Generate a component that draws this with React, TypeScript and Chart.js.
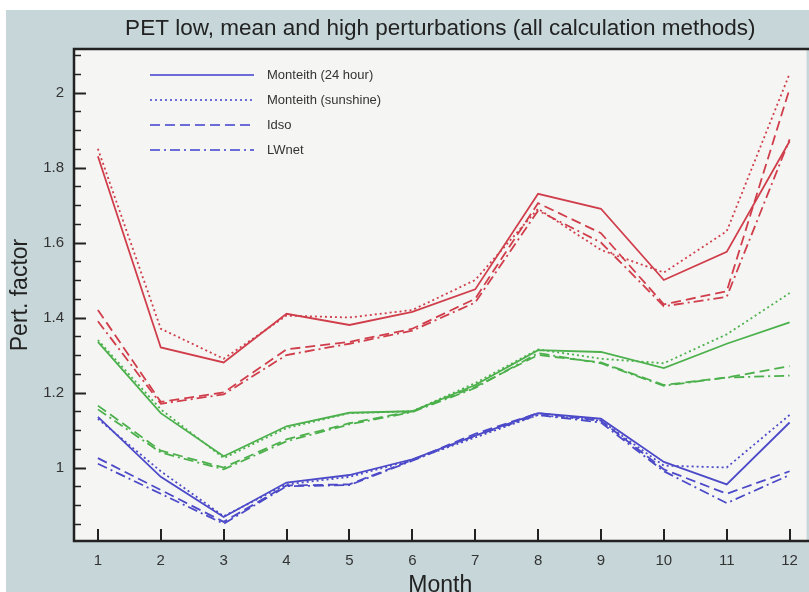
import React, { useEffect, useRef } from "react";
import { Chart, registerables } from "chart.js";
Chart.register(...registerables);

const months = [1, 2, 3, 4, 5, 6, 7, 8, 9, 10, 11, 12];
const yTickValues = [1, 1.2, 1.4, 1.6, 1.8, 2];
const yMinorValues = [0.85, 0.9, 0.95, 1.05, 1.1, 1.15, 1.25, 1.3, 1.35, 1.45, 1.5, 1.55, 1.65, 1.7, 1.75, 1.85, 1.9, 1.95, 2.05, 2.1];
const methodLabels = ["Monteith (24 hour)", "Monteith (sunshine)", "Idso", "LWnet"];

// High perturbation (red)
const highM24 = [1.83, 1.32, 1.28, 1.41, 1.38, 1.415, 1.475, 1.73, 1.69, 1.5, 1.575, 1.87];
const highSun = [1.85, 1.37, 1.29, 1.405, 1.4, 1.42, 1.5, 1.69, 1.58, 1.52, 1.63, 2.05];
const highIdso = [1.42, 1.175, 1.2, 1.315, 1.335, 1.37, 1.45, 1.705, 1.625, 1.435, 1.47, 2.01];
const highLW = [1.39, 1.17, 1.195, 1.3, 1.33, 1.365, 1.44, 1.685, 1.6, 1.43, 1.455, 1.875];

// Mean perturbation (green)
const midM24 = [1.335, 1.145, 1.03, 1.11, 1.146, 1.15, 1.22, 1.313, 1.308, 1.265, 1.33, 1.387];
const midSun = [1.34, 1.155, 1.025, 1.105, 1.145, 1.15, 1.225, 1.315, 1.29, 1.278, 1.355, 1.465];
const midIdso = [1.165, 1.045, 1.0, 1.075, 1.118, 1.15, 1.215, 1.3, 1.28, 1.22, 1.24, 1.27];
const midLW = [1.155, 1.04, 0.995, 1.07, 1.115, 1.148, 1.212, 1.305, 1.278, 1.218, 1.24, 1.245];

// Low perturbation (blue)
const lowM24 = [1.135, 0.975, 0.868, 0.96, 0.98, 1.022, 1.085, 1.145, 1.13, 1.015, 0.955, 1.12];
const lowSun = [1.13, 0.99, 0.87, 0.955, 0.975, 1.02, 1.08, 1.14, 1.125, 1.005, 1.0, 1.14];
const lowIdso = [1.025, 0.94, 0.855, 0.952, 0.955, 1.02, 1.09, 1.145, 1.125, 0.995, 0.93, 0.99];
const lowLW = [1.01, 0.93, 0.85, 0.95, 0.953, 1.018, 1.085, 1.14, 1.12, 0.99, 0.905, 0.98];

const RED = "#d03e4c";
const GREEN = "#4cb04c";
const BLUE = "#4c4ac8";
const LEGEND_LINE = "#6c6cd8";
const FONT = "'Liberation Sans', Arial, Helvetica, sans-serif";

const DASH_SOLID: number[] = [];
const DASH_DOT = [2, 3];
const DASH_DASH = [10, 5];
const DASH_DASHDOT = [10, 4, 2, 4];
const dashes = [DASH_SOLID, DASH_DOT, DASH_DASH, DASH_DASHDOT];

function ds(label: string, values: number[], color: string, dash: number[]) {
  return {
    label,
    data: values.map((y, i) => ({ x: months[i], y })),
    borderColor: color,
    backgroundColor: color,
    borderWidth: 1.8,
    borderDash: dash,
    pointRadius: 0,
    fill: false,
    tension: 0,
  };
}

const bgPlugin = {
  id: "bgPlugin",
  beforeDraw(chart: any) {
    const { ctx, chartArea } = chart;
    ctx.save();
    ctx.fillStyle = "#ffffff";
    ctx.fillRect(0, 0, chart.width, chart.height);
    ctx.fillStyle = "#c6d6d9";
    ctx.fillRect(6, 10, chart.width - 6, chart.height - 10);
    ctx.fillStyle = "#f5f6f3";
    ctx.fillRect(chartArea.left, chartArea.top, chartArea.right - chartArea.left, chartArea.bottom - chartArea.top);
    ctx.restore();
  },
};

const framePlugin = {
  id: "framePlugin",
  afterDatasetsDraw(chart: any) {
    const { ctx, chartArea, scales } = chart;
    const { left, right, top, bottom } = chartArea;
    ctx.save();
    ctx.strokeStyle = "#222222";
    ctx.lineWidth = 2;
    yTickValues.forEach((v) => {
      const y = Math.round(scales.y.getPixelForValue(v)) + 0.5;
      ctx.beginPath();
      ctx.moveTo(left, y);
      ctx.lineTo(left + 12, y);
      ctx.stroke();
    });
    ctx.lineWidth = 1.5;
    yMinorValues.forEach((v) => {
      const y = Math.round(scales.y.getPixelForValue(v)) + 0.5;
      ctx.beginPath();
      ctx.moveTo(left, y);
      ctx.lineTo(left + 7, y);
      ctx.stroke();
    });
    ctx.lineWidth = 2;
    months.forEach((m) => {
      const x = Math.round(scales.x.getPixelForValue(m));
      ctx.beginPath();
      ctx.moveTo(x, bottom);
      ctx.lineTo(x, bottom - 12);
      ctx.stroke();
    });
    ctx.lineWidth = 2.5;
    ctx.beginPath();
    ctx.moveTo(right + 5, top);
    ctx.lineTo(left, top);
    ctx.lineTo(left, bottom);
    ctx.lineTo(right + 5, bottom);
    ctx.stroke();
    ctx.restore();
  },
};

const legendPlugin = {
  id: "customLegend",
  afterDraw(chart: any) {
    const { ctx } = chart;
    const rowsY = [75, 100, 125, 150];
    ctx.save();
    methodLabels.forEach((label, i) => {
      const y = rowsY[i];
      ctx.strokeStyle = LEGEND_LINE;
      ctx.lineWidth = 2;
      ctx.setLineDash(dashes[i]);
      ctx.beginPath();
      ctx.moveTo(150, y);
      ctx.lineTo(254, y);
      ctx.stroke();
      ctx.setLineDash([]);
      ctx.fillStyle = "#333333";
      ctx.font = `13px ${FONT}`;
      ctx.textBaseline = "middle";
      ctx.textAlign = "left";
      ctx.fillText(label, 267, y);
    });
    ctx.restore();
  },
};

export default function App() {
  const canvasRef = useRef<HTMLCanvasElement | null>(null);

  useEffect(() => {
    if (!canvasRef.current) return;
    Chart.defaults.font.family = FONT;
    const datasets = [
      ds("High Monteith (24 hour)", highM24, RED, DASH_SOLID),
      ds("High Monteith (sunshine)", highSun, RED, DASH_DOT),
      ds("High Idso", highIdso, RED, DASH_DASH),
      ds("High LWnet", highLW, RED, DASH_DASHDOT),
      ds("Mean Monteith (24 hour)", midM24, GREEN, DASH_SOLID),
      ds("Mean Monteith (sunshine)", midSun, GREEN, DASH_DOT),
      ds("Mean Idso", midIdso, GREEN, DASH_DASH),
      ds("Mean LWnet", midLW, GREEN, DASH_DASHDOT),
      ds("Low Monteith (24 hour)", lowM24, BLUE, DASH_SOLID),
      ds("Low Monteith (sunshine)", lowSun, BLUE, DASH_DOT),
      ds("Low Idso", lowIdso, BLUE, DASH_DASH),
      ds("Low LWnet", lowLW, BLUE, DASH_DASHDOT),
    ];
    const chart = new Chart(canvasRef.current, {
      type: "line",
      data: { datasets },
      options: {
        animation: false,
        responsive: false,
        devicePixelRatio: 1,
        layout: { padding: 0 },
        plugins: {
          legend: { display: false },
          tooltip: { enabled: false },
          title: {
            display: true,
            text: "PET low, mean and high perturbations (all calculation methods)",
            color: "#222222",
            fullSize: false,
            font: { size: 22.5, weight: "normal", family: FONT, lineHeight: 1.2 },
            padding: { top: 15, bottom: 7 },
          },
        },
        scales: {
          x: {
            type: "linear",
            min: 0.62,
            max: 12.27,
            afterBuildTicks: (scale: any) => {
              scale.ticks = months.map((v) => ({ value: v }));
            },
            afterFit: (scale: any) => {
              scale.height = 51;
            },
            grid: { display: false, drawTicks: false },
            border: { display: false },
            ticks: {
              color: "#333333",
              font: { size: 15, family: FONT },
              padding: 11,
              maxRotation: 0,
              autoSkip: false,
              callback: (v: any) => `${v}`,
            },
            title: {
              display: true,
              text: "Month",
              color: "#222222",
              font: { size: 23, family: FONT },
              padding: { top: 0, bottom: -7 },
            },
          },
          y: {
            type: "linear",
            min: 0.804,
            max: 2.116,
            afterBuildTicks: (scale: any) => {
              scale.ticks = yTickValues.map((v) => ({ value: v }));
            },
            afterFit: (scale: any) => {
              scale.width = 74;
            },
            grid: { display: false, drawTicks: false },
            border: { display: false },
            ticks: {
              color: "#333333",
              font: { size: 15, family: FONT },
              padding: 10,
              callback: (v: any) => `${v}`,
            },
            title: {
              display: true,
              text: "Pert. factor",
              color: "#222222",
              font: { size: 23, family: FONT },
              padding: { top: 7, bottom: 0 },
            },
          },
        },
      },
      plugins: [bgPlugin, framePlugin, legendPlugin],
    });
    return () => chart.destroy();
  }, []);

  return (
    <div style={{ position: "absolute", left: 0, top: 0, width: 809, height: 592 }}>
      <canvas ref={canvasRef} width={809} height={592} style={{ display: "block" }} />
    </div>
  );
}
